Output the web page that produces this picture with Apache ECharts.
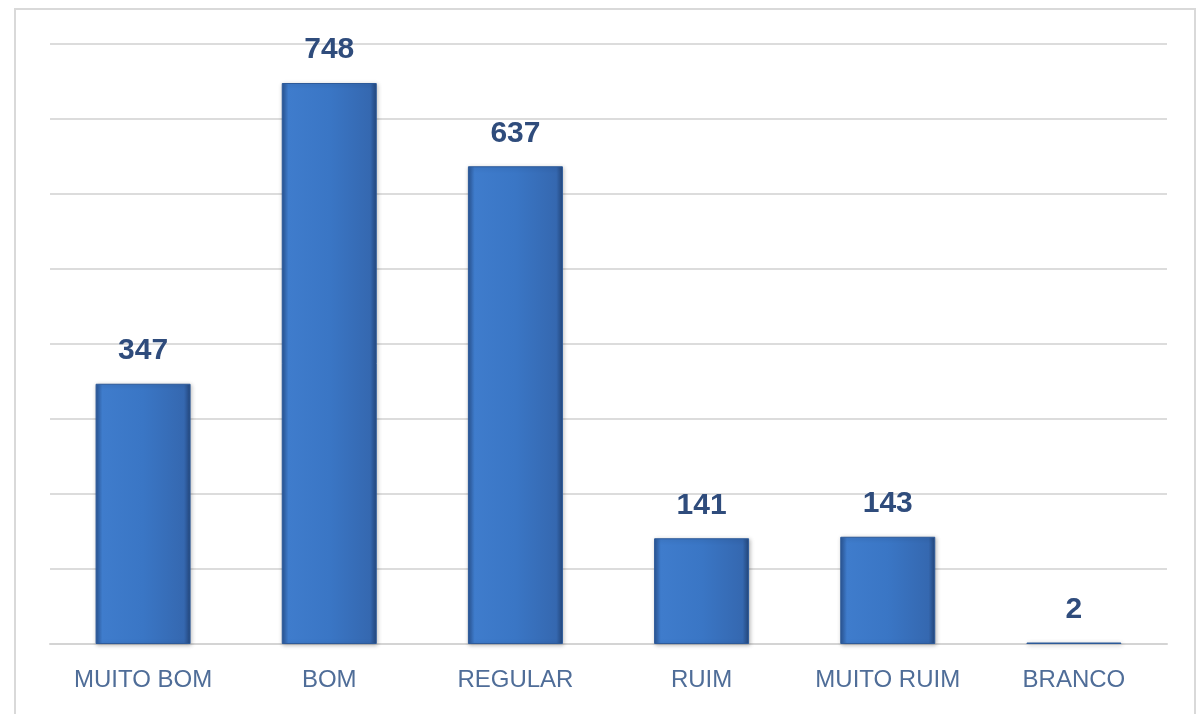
<!DOCTYPE html>
<html><head><meta charset="utf-8">
<script src="https://cdn.jsdelivr.net/npm/echarts@6/dist/echarts.min.js"></script>
<style>html,body{margin:0;padding:0;background:#fff}#c{width:1199px;height:714px}</style>
</head><body><div id="c"></div>
<script>
const categories = ['MUITO BOM', 'BOM', 'REGULAR', 'RUIM', 'MUITO RUIM', 'BRANCO'];
const values = [347, 748, 637, 141, 143, 2];
const yMin = 0, yMax = 800, yStep = 100;

const chart = echarts.init(document.getElementById('c'));
const barColor = new echarts.graphic.LinearGradient(0, 0, 1, 0, [
  {offset: 0, color: '#2a5594'},
  {offset: 0.07, color: '#3f7ccc'},
  {offset: 0.5, color: '#3a76c5'},
  {offset: 0.93, color: '#3568b0'},
  {offset: 1, color: '#24477c'}
]);
chart.setOption({
  animation: false,
  backgroundColor: '#fff',
  graphic: [{type: 'rect', shape: {x: 15, y: 9, width: 1180, height: 720},
    style: {fill: 'none', stroke: '#d9d9d9', lineWidth: 2}, silent: true}],
  grid: {left: 50, right: 32, top: 44, bottom: 70},
  xAxis: {type: 'category', data: categories,
    axisLine: {show: true, lineStyle: {color: '#d4d4d4', width: 2}},
    axisTick: {show: false},
    axisLabel: {interval: 0, color: '#4f6d98', fontSize: 24, fontFamily: 'Liberation Sans', margin: 24}},
  yAxis: {type: 'value', min: yMin, max: yMax, interval: yStep,
    axisLabel: {show: false}, axisLine: {show: false}, axisTick: {show: false},
    splitLine: {lineStyle: {color: '#dcdcdc', width: 2}}},
  series: [{type: 'bar', data: values, barWidth: 95,
    itemStyle: {color: barColor, borderColor: '#2d5a99', borderWidth: 1,
      shadowColor: 'rgba(0,0,0,0.25)', shadowBlur: 4, shadowOffsetX: 1, shadowOffsetY: 1},
    label: {show: true, position: 'top', distance: 18, color: '#2f4c7c',
      fontSize: 30, fontWeight: 'bold', fontFamily: 'Liberation Sans'}}]
});
</script></body></html>
